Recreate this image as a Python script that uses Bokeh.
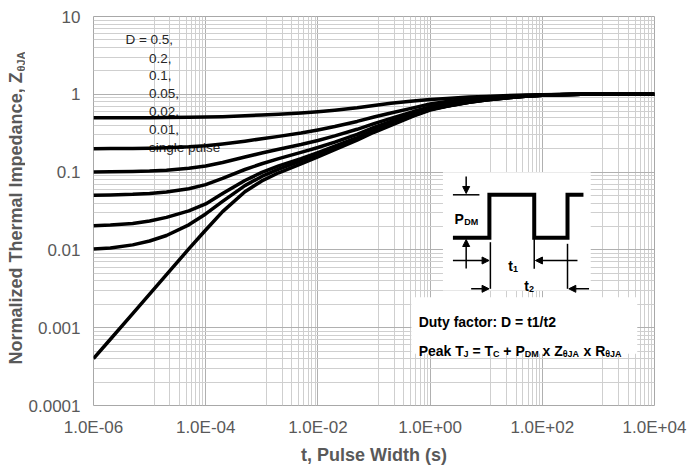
import math
from bokeh.plotting import figure
from bokeh.layouts import row
from bokeh.models import (FixedTicker, CustomJSTickFormatter, Label, BoxAnnotation,
                          Arrow, NormalHead, Range1d)
from bokeh.core.properties import value
from bokeh.embed import file_html
from bokeh.resources import INLINE

# ---------------- data ----------------
pulse_width = [1e-6, 2e-6, 5e-6, 1e-5, 2e-5, 5e-5, 1e-4, 2e-4, 5e-4, 1e-3,
               2e-3, 5e-3, 1e-2, 2e-2, 5e-2, 0.1, 0.2, 0.5, 1, 2,
               5, 10, 20, 50, 100, 200, 500, 1e3, 1e4]
z_d050 = [0.5, 0.5, 0.5005, 0.501, 0.503, 0.506, 0.51, 0.516, 0.53, 0.542,
          0.555, 0.575, 0.597, 0.625, 0.672, 0.72, 0.765, 0.82, 0.855, 0.885,
          0.92, 0.94, 0.96, 0.98, 0.99, 0.996, 0.999, 1.0, 1.0]
z_d020 = [0.2, 0.2005, 0.2015, 0.203, 0.206, 0.211, 0.218, 0.23, 0.25, 0.268,
          0.288, 0.318, 0.348, 0.385, 0.448, 0.51, 0.575, 0.67, 0.752, 0.81,
          0.865, 0.895, 0.925, 0.962, 0.98, 0.992, 0.999, 1.0, 1.0]
z_d010 = [0.1005, 0.1008, 0.1017, 0.103, 0.106, 0.112, 0.12, 0.133, 0.156, 0.176,
          0.197, 0.226, 0.255, 0.292, 0.355, 0.42, 0.49, 0.6, 0.69, 0.75,
          0.822, 0.865, 0.904, 0.951, 0.975, 0.99, 0.998, 1.0, 1.0]
z_d005 = [0.0505, 0.0509, 0.0518, 0.0532, 0.0556, 0.0612, 0.069, 0.083, 0.108, 0.128,
          0.149, 0.179, 0.207, 0.243, 0.306, 0.375, 0.447, 0.565, 0.66, 0.725,
          0.805, 0.855, 0.897, 0.948, 0.973, 0.989, 0.998, 1.0, 1.0]
z_d002 = [0.0205, 0.0209, 0.0219, 0.0235, 0.0262, 0.0318, 0.039, 0.053, 0.078, 0.099,
          0.12, 0.149, 0.178, 0.215, 0.278, 0.345, 0.418, 0.54, 0.64, 0.708,
          0.794, 0.848, 0.892, 0.946, 0.972, 0.988, 0.998, 1.0, 1.0]
z_d001 = [0.0103, 0.0106, 0.0116, 0.013, 0.0153, 0.021, 0.029, 0.042, 0.067, 0.088,
          0.109, 0.139, 0.167, 0.204, 0.268, 0.335, 0.41, 0.533, 0.635, 0.705,
          0.792, 0.847, 0.891, 0.946, 0.971, 0.988, 0.998, 1.0, 1.0]
z_single = [0.0004, 0.00071, 0.00152, 0.0027, 0.0048, 0.0103, 0.018, 0.031, 0.056, 0.077,
            0.098, 0.128, 0.157, 0.194, 0.258, 0.325, 0.40, 0.525, 0.628, 0.70,
            0.79, 0.845, 0.89, 0.945, 0.97, 0.988, 0.998, 1.0, 1.0]
series = [z_d050, z_d020, z_d010, z_d005, z_d002, z_d001, z_single]

legend_labels = ["D = 0.5,", "0.2,", "0.1,", "0.05,", "0.02,", "0.01,", "single pulse"]

x_major = [1e-6, 1e-4, 1e-2, 1, 1e2, 1e4]
x_tick_labels = ["1.0E-06", "1.0E-04", "1.0E-02", "1.0E+00", "1.0E+02", "1.0E+04"]
x_minor_steps = [12, 23, 34, 45, 56, 67, 78, 89]
y_major = [1e-4, 1e-3, 1e-2, 1e-1, 1, 10]
y_tick_labels = ["0.0001", "0.001", "0.01", "0.1", "1", "10"]
y_minor_steps = [2, 3, 4, 5, 6, 7, 8, 9]

x_title = "t, Pulse Width (s)"
y_title = "Normalized Thermal Impedance, Z"
y_title_sub = "θJA"

# ---------------- layout helpers (page pixel -> data) ----------------
LEFT_W = 25
FX0, FY0, PXD, PYD = 91.0, 16.0, 56.3, 77.8


def dx(px):
    return 10 ** (-6 + (px - FX0) / PXD)


def dy(py):
    return 10 ** (1 - (py - FY0) / PYD)


FONT = "Liberation Sans"
GRAY = "#595959"

# ---------- narrow strip holding the rotated y title ----------
H = 470
left = figure(width=LEFT_W, height=H, x_range=Range1d(0, LEFT_W), y_range=Range1d(0, H),
              x_axis_location=None, y_axis_location=None, min_border=0,
              output_backend="svg", toolbar_location=None)
left.outline_line_color = None
left.grid.visible = False
left.background_fill_color = "white"
left.border_fill_color = "white"
left.text(x=[15.5], y=[H - 67.5], text=[y_title], angle=math.pi / 2,
          text_align="right", text_baseline="middle", text_font=value(FONT),
          text_font_size="18px", text_font_style="bold", text_color=GRAY)
left.text(x=[20.0], y=[H - 66.5], text=[y_title_sub], angle=math.pi / 2,
          text_align="left", text_baseline="middle", text_font=value(FONT),
          text_font_size="11px", text_font_style="bold", text_color=GRAY)

# ---------- main chart ----------
p = figure(width=665, height=H, x_axis_type="log", y_axis_type="log",
           x_range=(1e-6, 1e4), y_range=(1e-4, 10),
           output_backend="svg", toolbar_location=None,
           min_border_left=91 - LEFT_W, min_border_right=36, min_border_top=16,
           min_border_bottom=65)
p.background_fill_color = "white"
p.border_fill_color = "white"
p.outline_line_color = "#a8a8a8"

x_minor = [b * m for b in x_major[:-1] for m in x_minor_steps]
y_minor = [b * m for b in y_major[:-1] for m in y_minor_steps]

fmt_code = """
const lt = Math.log10(tick);
for (let i = 0; i < major_vals.length; i++) {
  if (Math.abs(Math.log10(major_vals[i]) - lt) < 1e-3) return label_list[i];
}
return "";
"""
p.xaxis.ticker = FixedTicker(ticks=x_major, minor_ticks=x_minor)
p.yaxis.ticker = FixedTicker(ticks=y_major, minor_ticks=y_minor)
p.xaxis.formatter = CustomJSTickFormatter(args=dict(major_vals=x_major, label_list=x_tick_labels), code=fmt_code)
p.yaxis.formatter = CustomJSTickFormatter(args=dict(major_vals=y_major, label_list=y_tick_labels), code=fmt_code)

for ax in (p.xaxis, p.yaxis):
    ax.axis_line_color = None
    ax.major_tick_line_color = None
    ax.minor_tick_line_color = None
    ax.major_tick_out = 0
    ax.minor_tick_out = 0
    ax.major_label_text_font = FONT
    ax.major_label_text_font_size = "17px"
    ax.major_label_text_color = GRAY
p.xaxis.major_label_standoff = 12
p.yaxis.major_label_standoff = 13
p.xaxis.axis_label = x_title
p.xaxis.axis_label_text_font = FONT
p.xaxis.axis_label_text_font_size = "18px"
p.xaxis.axis_label_text_font_style = "bold"
p.xaxis.axis_label_text_color = GRAY
p.xaxis.axis_label_standoff = 5

for g in (p.xgrid, p.ygrid):
    g.grid_line_color = "#b0b0b0"
    g.grid_line_width = 1
    g.minor_grid_line_color = "#cfcfcf"
    g.minor_grid_line_width = 1

# legend-like text block (under the curves)
leg_px = [123, 146.7, 146.7, 146.7, 146.7, 146.7, 146.7]
leg_py = [39, 57.5, 75, 92.5, 110.5, 128.5, 146.5]
p.text(x=[dx(v) for v in leg_px], y=[dy(v) for v in leg_py], text=legend_labels,
       text_font=value(FONT), text_font_size="13.5px", text_color="#262626",
       text_baseline="middle", text_align="left")

for s in series:
    p.line(pulse_width, s, line_color="black", line_width=3.5, line_join="round")

# inset: white boxes
p.add_layout(BoxAnnotation(left=dx(441.7), right=dx(590), top=dy(171.7), bottom=dy(290),
                           fill_color="white", fill_alpha=1.0, line_color=None))
p.add_layout(BoxAnnotation(left=dx(410), right=dx(636.7), top=dy(296.7), bottom=dy(353.3),
                           fill_color="white", fill_alpha=1.0, line_color=None))

# waveform
wave_px = [451.7, 488.3, 488.3, 533.3, 533.3, 566.7, 566.7, 582.7]
wave_py = [237.3, 237.3, 194.3, 194.3, 237.3, 237.3, 194.3, 194.3]
p.line([dx(v) for v in wave_px], [dy(v) for v in wave_py], line_color="black",
       line_width=4, line_join="miter", level="overlay")

seg = [(451.7, 194.3, 478.3, 194.3), (489.3, 241.7, 489.3, 288.3),
       (533.3, 237.3, 533.3, 268.3), (566.7, 243.3, 566.7, 288.3)]
p.segment(x0=[dx(a[0]) for a in seg], y0=[dy(a[1]) for a in seg],
          x1=[dx(a[2]) for a in seg], y1=[dy(a[3]) for a in seg],
          line_color="black", line_width=1.5, level="overlay")

arrows = [(465, 176, 465, 193), (465, 268, 465, 239), (451.7, 260, 488, 260),
          (576.7, 260, 534.5, 260), (470, 288.3, 488, 288.3), (588.3, 288.3, 568, 288.3)]
for a in arrows:
    p.add_layout(Arrow(x_start=dx(a[0]), y_start=dy(a[1]), x_end=dx(a[2]), y_end=dy(a[3]),
                       line_color="black", line_width=1.5,
                       end=NormalHead(size=7, fill_color="black", line_color="black")))

inset_text = [
    ("P", 453.3, 218, "14px"), ("DM", 463, 221, "9px"),
    ("t", 507.3, 265, "14px"), ("1", 512, 268, "9px"),
    ("t", 523.3, 285, "14px"), ("2", 528, 288, "9px"),
    ("Duty factor: D = t1/t2", 417.3, 321.5, "14px"),
    ("Peak T", 417.3, 350, "14px"), ("J", 462.4, 353, "9px"),
    ("= T", 471.3, 350, "14px"), ("C", 491.9, 353, "9px"),
    ("+ P", 502.3, 350, "14px"), ("DM", 523.7, 353, "9px"),
    ("x Z", 541.6, 350, "14px"), ("θJA", 561.8, 353, "9px"),
    ("x R", 582.7, 350, "14px"), ("θJA", 604.5, 353, "9px"),
]
for t, px, py, fs in inset_text:
    p.add_layout(Label(x=dx(px), y=dy(py), text=t, text_align="left",
                       text_baseline="alphabetic", text_font=FONT, text_font_size=fs,
                       text_font_style="bold", text_color="black"))

layout = row(left, p)
open("out.html", "w").write(file_html(layout, INLINE))
